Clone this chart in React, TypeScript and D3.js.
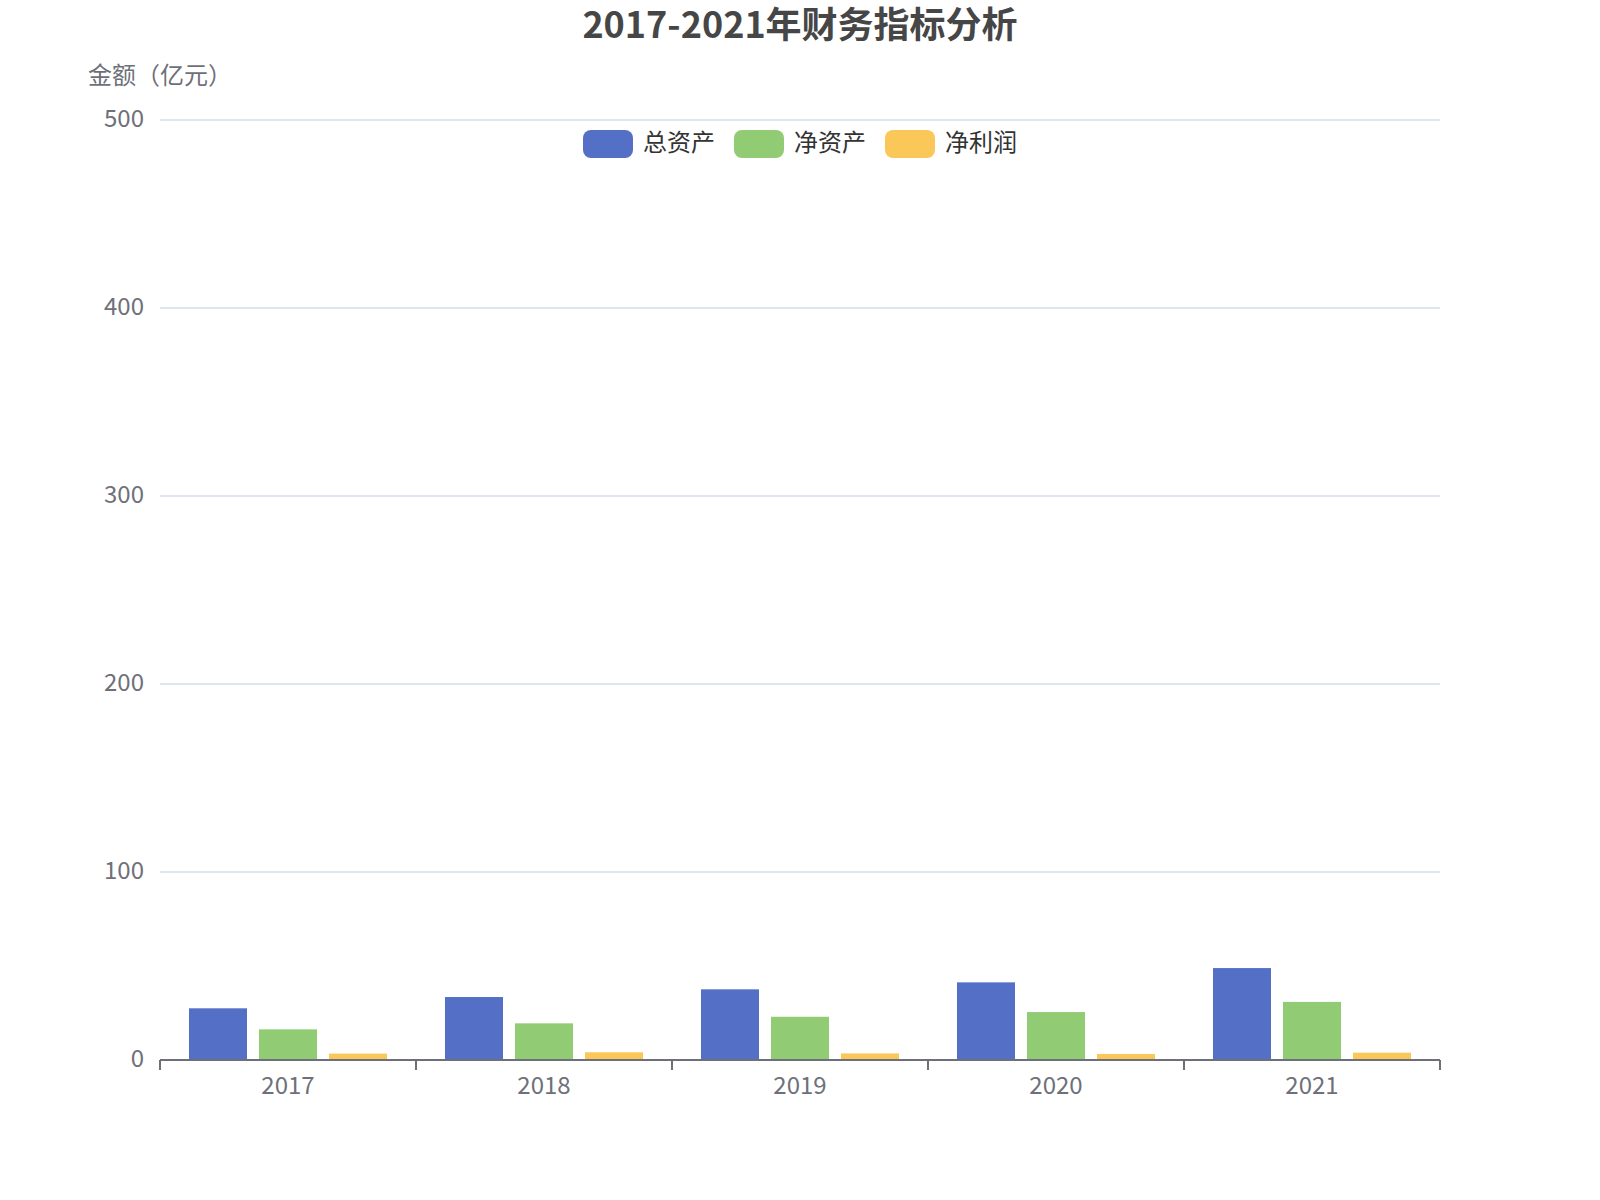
import React from 'react';
import * as d3 from 'd3';

const years = ['2017', '2018', '2019', '2020', '2021'];
const seriesNames = ['总资产', '净资产', '净利润'];
const totalAssets = [27.5, 33.5, 37.6, 41.3, 48.9];
const netAssets = [16.3, 19.5, 23.0, 25.5, 30.9];
const netProfit = [3.4, 4.1, 3.5, 3.2, 3.9];
const yTicks = [0, 100, 200, 300, 400, 500];
const colors = ['#5470c6', '#91cc75', '#fac858'];

const W = 1600;
const H = 1200;
const margin = { left: 160, right: 160, top: 120, bottom: 140 };
const font = '"Noto Sans CJK SC", "Noto Sans", sans-serif';

const App: React.FC = () => {
  const series = [totalAssets, netAssets, netProfit];

  const x = d3.scaleBand().domain(years).range([margin.left, W - margin.right]);
  const y = d3.scaleLinear().domain([0, 500]).range([H - margin.bottom, margin.top]);

  const barW = 58;
  const barGap = 12;
  const groupW = series.length * barW + (series.length - 1) * barGap;

  const legendItems = seriesNames.map((name, i) => ({ name, color: colors[i] }));
  const legendStart = 583;
  const legendStep = 151;

  return (
    <svg width={W} height={H} style={{ position: 'absolute', left: 0, top: 0, background: '#fff' }}>
      <text x={W / 2} y={38} textAnchor="middle"
        fontFamily={font} fontSize={36} fontWeight="bold" fill="#464646">
        2017-2021年财务指标分析
      </text>

      {/* y axis name */}
      <text x={160} y={73} textAnchor="middle" dominantBaseline="central"
        fontFamily={font} fontSize={24} fill="#6E7079">
        金额（亿元）
      </text>

      {/* grid + y labels */}
      {yTicks.map(t => (
        <g key={t}>
          {t !== 0 && (
            <line x1={margin.left} x2={W - margin.right} y1={y(t)} y2={y(t)} stroke="#E0E6F1" strokeWidth={2} />
          )}
          <text x={margin.left - 16} y={y(t) - 4} textAnchor="end" dominantBaseline="central"
            fontFamily={font} fontSize={24} fill="#6E7079">{t}</text>
        </g>
      ))}

      {/* bars */}
      {series.map((vals, si) => (
        <g key={si} fill={colors[si]}>
          {vals.map((v, i) => {
            const cx = (x(years[i]) as number) + x.bandwidth() / 2;
            const bx = cx - groupW / 2 + si * (barW + barGap);
            return <rect key={i} x={bx} y={y(v)} width={barW} height={y(0) - y(v)} />;
          })}
        </g>
      ))}

      {/* x axis */}
      <line x1={margin.left} x2={W - margin.right} y1={y(0)} y2={y(0)} stroke="#6E7079" strokeWidth={2} />
      {[...years.map(yr => x(yr) as number), W - margin.right].map((px, i) => (
        <line key={i} x1={px} x2={px} y1={y(0)} y2={y(0) + 10} stroke="#6E7079" strokeWidth={2} />
      ))}
      {years.map(yr => (
        <text key={yr} x={(x(yr) as number) + x.bandwidth() / 2} y={y(0) + 23} textAnchor="middle"
          dominantBaseline="central" fontFamily={font} fontSize={24} fill="#6E7079">{yr}</text>
      ))}

      {/* legend */}
      {legendItems.map((it, i) => (
        <g key={it.name} transform={`translate(${legendStart + i * legendStep},130)`}>
          <rect width={50} height={28} rx={8} ry={8} fill={it.color} />
          <text x={60} y={10} dominantBaseline="central" fontFamily={font} fontSize={24} fill="#333">{it.name}</text>
        </g>
      ))}
    </svg>
  );
};

export default App;
